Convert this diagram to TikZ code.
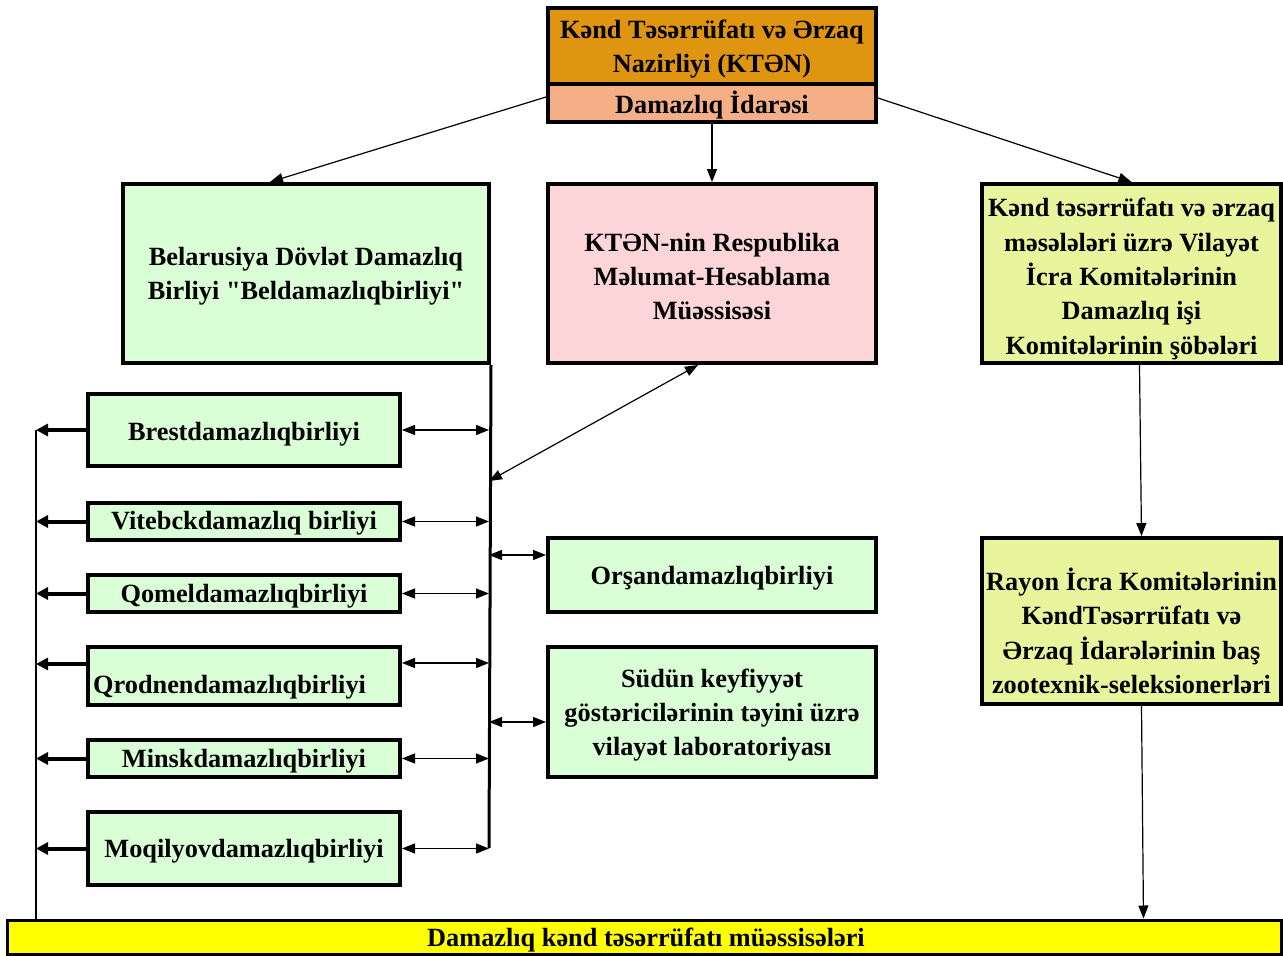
\documentclass[tikz,border=0pt]{standalone}
\usepackage{fontspec}
\setmainfont{Liberation Serif}[Ligatures=TeXOff]
\usetikzlibrary{arrows.meta,calc}
\definecolor{orangeA}{HTML}{E09510}
\definecolor{salmonA}{HTML}{F4AF86}
\definecolor{greenA}{HTML}{DAFFD6}
\definecolor{pinkA}{HTML}{FBD5D8}
\definecolor{ygA}{HTML}{E9F59C}
\definecolor{yelA}{HTML}{FFFF00}
\tikzset{
  box/.style={draw, line width=4pt, inner sep=0pt},
  txt/.style={font=\bfseries\fontsize{26.3}{34.3}\selectfont, inner sep=0pt, align=center},
  arr/.style={-{Triangle[length=13pt,width=10pt]}, line width=1.2pt},
  darr/.style={{Triangle[length=13pt,width=10pt]}-{Triangle[length=13pt,width=10pt]}, line width=1.2pt},
  tarr/.style={-{Triangle[length=12pt,width=12pt]}, line width=4pt},
}
\begin{document}
\begin{tikzpicture}[x=1pt,y=-1pt]
\useasboundingbox (0,0) rectangle (1283,956);
% top
\node[box, fill=orangeA, minimum width=328pt, minimum height=76pt] (top1) at (712,46) {};
\node[box, fill=salmonA, minimum width=328pt, minimum height=38pt] (top2) at (712,103) {};
\node[txt] (top1t) at ([yshift=-3pt]top1.center) {Kənd Təsərrüfatı və Ərzaq\\Nazirliyi (KTƏN)};
\node[txt] (top2t) at ([yshift=-2pt]top2.center) {Damazlıq İdarəsi};
% second row
\node[box, fill=greenA, minimum width=366pt, minimum height=179pt] (bel) at (306,273.5) {};
\node[txt] (belt) at ([yshift=-3pt]bel.center) {Belarusiya Dövlət Damazlıq\\Birliyi "Beldamazlıqbirliyi"};
\node[box, fill=pinkA, minimum width=328pt, minimum height=179pt] (kt) at (712,273.5) {};
\node[txt] (ktt) at ([yshift=-3pt]kt.center) {KTƏN-nin Respublika\\Məlumat-Hesablama\\Müəssisəsi};
\node[box, fill=ygA, minimum width=299pt, minimum height=179pt] (rb) at (1131.5,273.5) {};
\node[txt] (rbt) at ([yshift=-5.5pt]rb.center) {Kənd təsərrüfatı və ərzaq\\məsələləri üzrə Vilayət\\İcra Komitələrinin\\Damazlıq işi\\Komitələrinin şöbələri};
\node[box, fill=ygA, minimum width=299pt, minimum height=166pt] (ray) at (1131.5,621) {};
\node[txt] (rayt) at ([yshift=-10pt]ray.center) {Rayon İcra Komitələrinin\\KəndTəsərrüfatı və\\Ərzaq İdarələrinin baş\\zootexnik-seleksionerləri};
% left boxes
\node[box, fill=greenA, minimum width=312pt, minimum height=72pt] (brest) at (244,430) {};
\node[txt] (brestt) at ([yshift=-4pt]brest.center) {Brestdamazlıqbirliyi};
\node[box, fill=greenA, minimum width=312pt, minimum height=37pt] (vit) at (244,521.5) {};
\node[txt] (vitt) at ([yshift=-2pt]vit.center) {Vitebckdamazlıq birliyi};
\node[box, fill=greenA, minimum width=312pt, minimum height=37pt] (qom) at (244,593.5) {};
\node[txt] (qomt) at ([yshift=-3pt]qom.center) {Qomeldamazlıqbirliyi};
\node[box, fill=greenA, minimum width=312pt, minimum height=58pt] (qrod) at (244,676) {};
\node[txt, anchor=west] (qrodt) at ([xshift=7pt,yshift=-11pt]qrod.west) {Qrodnendamazlıqbirliyi};
\node[box, fill=greenA, minimum width=312pt, minimum height=37pt] (minsk) at (244,758.5) {};
\node[txt] (minskt) at ([yshift=-3pt]minsk.center) {Minskdamazlıqbirliyi};
\node[box, fill=greenA, minimum width=312pt, minimum height=73pt] (moq) at (244,848.5) {};
\node[txt] (moqt) at ([yshift=-3pt]moq.center) {Moqilyovdamazlıqbirliyi};
% middle boxes
\node[box, fill=greenA, minimum width=328pt, minimum height=74pt] (or) at (712,575) {};
\node[txt] (ort) at ([yshift=-3pt]or.center) {Orşandamazlıqbirliyi};
\node[box, fill=greenA, minimum width=328pt, minimum height=130pt] (sud) at (712,712) {};
\node[txt] (sudt) at ([yshift=-3pt]sud.center) {Südün keyfiyyət\\göstəricilərinin təyini üzrə\\vilayət laboratoriyası};
% bottom bar
\node[box, line width=3pt, fill=yelA, minimum width=1274pt, minimum height=34pt] (bar) at (644,937) {};
\node[txt] (bart) at (646,940) {Damazlıq kənd təsərrüfatı müəssisələri};
% coordinates
\coordinate (vb) at (489,848);
\coordinate (lt) at (36,430);
% trunk lines
\draw[line width=3pt] (bel.south east) -- (vb);
\draw[line width=2pt] (lt) -- (lt |- bar.north);
% top arrows
\draw[arr] ([yshift=6pt]top2.west) -- ([xshift=-36pt]bel.north);
\draw[arr] (top2.south) -- (kt.north);
\draw[arr] ([yshift=5pt]top2.east) -- (rb.north);
\draw[arr] ([xshift=8pt]rb.south) -- ([xshift=10pt]ray.north);
\draw[arr] ([xshift=10pt]ray.south) -- ([xshift=12pt]ray.south |- bar.north);
% KT to trunk
\draw[darr] ([xshift=-14pt]kt.south) -- (489,481);
% left boxes to trunk
\foreach \b in {brest,vit,qom,minsk,moq}{
  \draw[darr] (\b.east) -- (\b.east -| vb);
  \draw[tarr] (\b.west) -- (\b.west -| lt);
}
\draw[darr] ([yshift=13pt]qrod.east) -- ([yshift=13pt]qrod.east -| vb);
\draw[tarr] ([yshift=12pt]qrod.west) -- ([yshift=12pt]qrod.west -| lt);
% trunk to middle boxes
\draw[darr] ([yshift=20pt]or.west -| vb) -- ([yshift=20pt]or.west);
\draw[darr] ([yshift=-10pt]sud.west -| vb) -- ([yshift=-10pt]sud.west);
\end{tikzpicture}
\end{document}
